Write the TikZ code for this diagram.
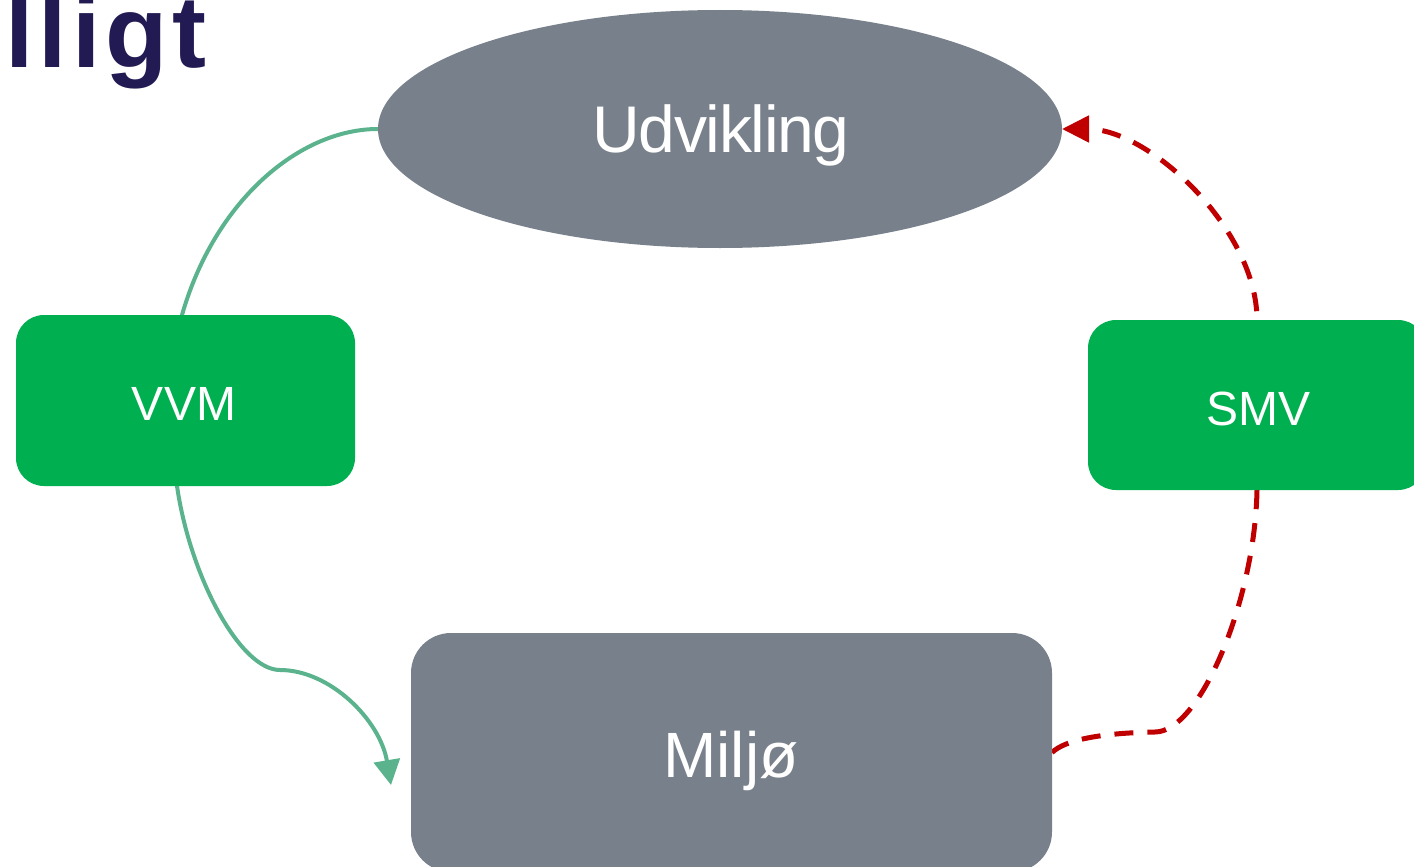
\documentclass[tikz,border=0pt]{standalone}
\usepackage{fontspec}
\setmainfont{Liberation Sans}
\usetikzlibrary{shapes.geometric,arrows.meta,backgrounds}
\definecolor{boxgray}{HTML}{78818B}
\definecolor{boxgreen}{HTML}{00B050}
\definecolor{linegreen}{HTML}{5BB38E}
\definecolor{linered}{HTML}{C00000}
\definecolor{titlenavy}{HTML}{221A52}
\tikzset{
  shapebox/.style={draw=none, inner sep=0pt, outer sep=0pt},
  graybox/.style={shapebox, rectangle, fill=boxgray, rounded corners=40pt},
  greenbox/.style={shapebox, rectangle, fill=boxgreen, rounded corners=28pt},
  bigtxt/.style={anchor=base, inner sep=0pt, text=white, font={\fontsize{66}{80}\selectfont\addfontfeature{LetterSpace=-2}}},
  midtxt/.style={anchor=base, inner sep=0pt, text=white, font={\fontsize{64}{76}\selectfont}},
  smalltxt/.style={anchor=base, inner sep=0pt, text=white, font={\fontsize{48}{58}\selectfont}},
  greenconn/.style={draw=linegreen, line width=4pt, -{Triangle[length=25pt,width=26pt]}},
  redconn/.style={draw=linered, line width=5pt, dash pattern=on 19pt off 14pt, -{Triangle[length=27pt,width=26pt]}}
}
\begin{document}
\begin{tikzpicture}[x=1pt,y=-1pt]
\useasboundingbox (0,0) rectangle (1414,867);
% title fragment
\node[anchor=base west, inner sep=0pt, text=titlenavy,
      font={\fontsize{102}{110}\selectfont\bfseries\addfontfeature{LetterSpace=5}}] (title) at (5,68) {lligt};
% shapes
\node[shapebox, ellipse, fill=boxgray, minimum width=684pt, minimum height=238pt] (udv) at (720,129) {};
\node[bigtxt] (udvt) at (721,152.7) {Udvikling};
\node[greenbox, minimum width=339pt, minimum height=171pt] (vvm) at (185.5,400.5) {};
\node[smalltxt] (vvmt) at (184,420) {VVM};
\node[greenbox, minimum width=338pt, minimum height=170pt] (smv) at (1257,405) {};
\node[smalltxt] (smvt) at (1258,425) {SMV};
\node[graybox, minimum width=641pt, minimum height=239pt] (mil) at (731.5,752.5) {};
\node[midtxt] (milt) at (731,777) {Miljø};
\coordinate (gEnd) at (391,785);
% connectors behind the shapes
\begin{pgfonlayer}{background}
\draw[greenconn] (udv.west) .. controls (300,129) and (215,200) .. (182,315)
  .. controls (172,380) and (172,440) .. (177,486)
  .. controls (190,576) and (240,670) .. (280,670)
  .. controls (330,670) and (380,720) .. (gEnd);
\draw[redconn] (mil.east) .. controls (1065,740) and (1100,733) .. (1155,732)
  .. controls (1200,732) and (1255,600) .. (1257,490)
  -- (1257,320)
  .. controls (1257,230) and (1150,129) .. (udv.east);
\end{pgfonlayer}
\end{tikzpicture}
\end{document}
